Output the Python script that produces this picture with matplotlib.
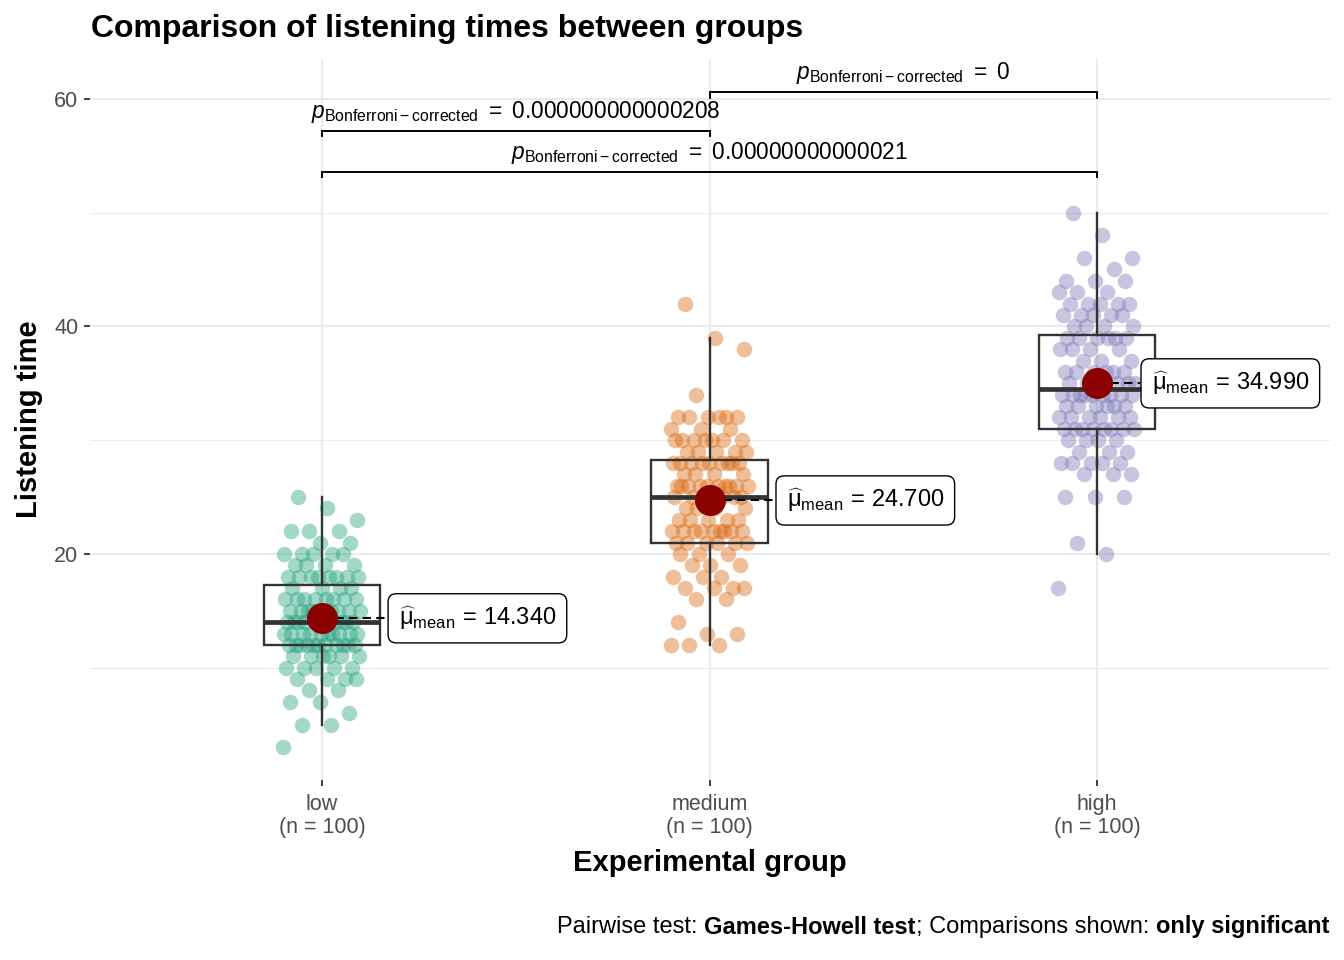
import matplotlib
matplotlib.use("Agg")
import matplotlib.pyplot as plt
import numpy as np

plt.rcParams['font.family'] = ['Liberation Sans', 'DejaVu Sans']
plt.rcParams['mathtext.fontset'] = 'custom'
plt.rcParams['mathtext.rm'] = 'Liberation Sans'
plt.rcParams['mathtext.it'] = 'Liberation Sans:italic'
plt.rcParams['mathtext.bf'] = 'Liberation Sans:bold'

# listening times (value, how many points sit on it)
groups = ['low', 'medium', 'high']
group_n = [100, 100, 100]

low_values = [3, 5, 6, 7, 8, 9, 10, 11, 12, 13, 14, 15, 16, 17, 18, 19, 20, 21, 22, 23, 24, 25]
low_counts = [1, 2, 1, 2, 2, 4, 5, 6, 11, 10, 10, 9, 8, 4, 8, 4, 5, 2, 3, 1, 1, 1]

medium_values = [12, 13, 14, 16, 17, 18, 19, 20, 21, 22, 23, 24, 25, 26, 27, 28, 29, 30, 31, 32, 34, 38, 39, 42]
medium_counts = [3, 2, 1, 2, 4, 3, 3, 3, 6, 9, 5, 4, 7, 10, 4, 9, 5, 7, 3, 6, 1, 1, 1, 1]

high_values = [17, 20, 21, 25, 27, 28, 29, 30, 31, 32, 33, 34, 35, 36, 37, 38, 39, 40, 41, 42, 43, 44, 45, 46, 48, 50]
high_counts = [1, 1, 1, 3, 3, 5, 3, 4, 8, 6, 6, 9, 6, 6, 3, 4, 6, 4, 5, 5, 3, 3, 1, 2, 1, 1]

# pairwise comparisons (group a, group b, p label, bracket height)
pair_a = [1, 1, 2]
pair_b = [2, 3, 3]
pair_p = ['0.000000000000208', '0.00000000000021', '0']
pair_y = [57.2, 53.6, 60.6]

colors = ['#1B9E77', '#D95F02', '#7570B3']
label_dx = [0.168, 0.169, 0.111]

data = [np.repeat(low_values, low_counts),
        np.repeat(medium_values, medium_counts),
        np.repeat(high_values, high_counts)]

W, H = 1344, 960
fig = plt.figure(figsize=(W / 100, H / 100), dpi=100)
ax = fig.add_axes([89.5 / W, 1 - 780 / H, 1240 / W, 721 / H])

# points first, boxes on top
for i, vals in enumerate(data):
    xpos = i + 1
    k = np.arange(len(vals))
    off = ((k * 0.6180339887) % 1 - 0.5) * 0.2
    ax.scatter(xpos + off, vals, s=125, color=colors[i], alpha=0.4,
               linewidths=0, zorder=2)

ax.boxplot(data, positions=[1, 2, 3], widths=0.3, whis=1.5,
           showfliers=False, patch_artist=True, showcaps=False,
           manage_ticks=False,
           boxprops=dict(facecolor='none', edgecolor='#333333', lw=1.7),
           whiskerprops=dict(color='#333333', lw=1.7),
           medianprops=dict(color='#333333', lw=3.4),
           zorder=3)

mu = '\u03bc'
for i, vals in enumerate(data):
    xpos = i + 1
    m = vals.mean()
    ax.plot([xpos, xpos + label_dx[i]], [m, m], color='black', lw=1.5,
            dashes=(4, 2.5), zorder=4)
    ax.scatter([xpos], [m], s=500, color='#8B0000', zorder=5, linewidths=0)
    label = (r'$\widehat{\mathrm{' + mu + r'}}_{\mathrm{mean}}\,=\,'
             + f'{m:.3f}' + '$')
    ax.text(xpos + label_dx[i] + 0.03, m, label,
            ha='left', va='center', fontsize=17, zorder=6,
            bbox=dict(boxstyle='round,pad=0.45,rounding_size=0.35',
                      fc='white', ec='black', lw=1))

for a, b, p, y in zip(pair_a, pair_b, pair_p, pair_y):
    ax.plot([a, a, b, b], [y - 0.5, y, y, y - 0.5], color='black', lw=1.4,
            solid_joinstyle='miter', zorder=4)
    ax.text((a + b) / 2, y + 0.5,
            r'$\it{p}_{\mathrm{Bonferroni-corrected}}\ =\ \mathrm{%s}$' % p,
            ha='center', va='bottom', fontsize=16.3, zorder=6)

ax.set_xlim(0.4, 3.6)
ax.set_ylim(0.13, 63.5)
for s in ax.spines.values():
    s.set_visible(False)
ax.set_axisbelow(True)
ax.set_yticks([20, 40, 60])
ax.set_yticks([10, 30, 50], minor=True)
ax.set_xticks([1, 2, 3])
ax.set_xticklabels([f'{g}\n(n = {n})' for g, n in zip(groups, group_n)],
                   linespacing=1.15)
ax.grid(True, which='major', color='#EBEBEB', lw=1.5)
ax.grid(True, which='minor', axis='y', color='#EBEBEB', lw=0.75)
ax.tick_params(which='major', length=4, width=1.3, color='#333333',
               labelcolor='#4D4D4D', labelsize=15.5, pad=4)
ax.tick_params(axis='x', which='major', pad=6)
ax.tick_params(which='minor', length=0)

ax.set_xlabel('Experimental group', fontsize=21, fontweight='bold', labelpad=8)
ax.set_ylabel('Listening time', fontsize=21, fontweight='bold', labelpad=8)
fig.text(91 / W, 1 - 29 / H, 'Comparison of listening times between groups',
         fontsize=23, fontweight='bold', ha='left', va='center')

# caption with bold pieces, laid out right to left
parts = [('Pairwise test: ', 'normal'), ('Games-Howell test', 'bold'),
         ('; Comparisons shown: ', 'normal'), ('only significant', 'bold')]
renderer = fig.canvas.get_renderer()
x_right = 1329 / W
for txt, wt in reversed(parts):
    t = fig.text(x_right, 1 - 927 / H, txt, fontsize=17, fontweight=wt,
                 ha='right', va='center')
    bb = t.get_window_extent(renderer)
    x_right = bb.x0 / W

fig.savefig('out.png', dpi=100)
